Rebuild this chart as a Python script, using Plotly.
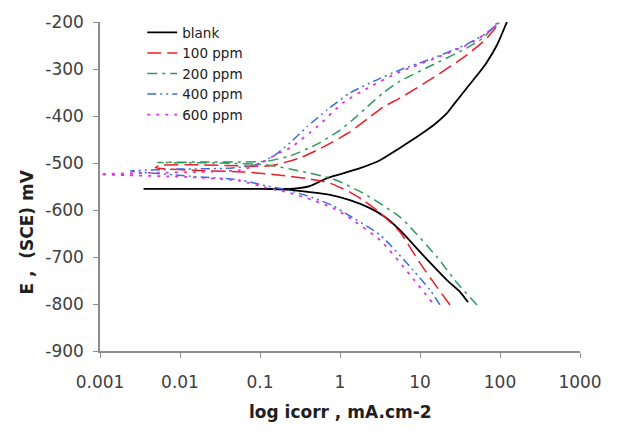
import plotly.graph_objects as go

# ---- data (current density mA/cm2, potential mV vs SCE) ----
# each curve runs from the cathodic end, through the low-current tip, to the anodic end
blank_i = [39.8, 31.6, 21.7, 10.9, 5.62, 3.65, 2.37, 1.33, 0.75, 0.42, 0.24, 0.10, 0.018, 0.0035,
           0.018, 0.10, 0.237, 0.42, 0.69, 1.15, 1.78, 3.16, 5.6, 10.0, 15.4, 21.7, 27.4, 38.7, 56.0, 68.8, 91.7, 122.0]
blank_E = [-796, -774, -749, -696, -643, -615, -596, -579, -568, -562, -557, -555, -555, -555,
           -555, -555, -555, -549, -532, -521, -511, -494, -468, -440, -417, -394, -372, -340, -306, -285, -249, -200]

ppm100_i = [23.7, 16.3, 10.0, 5.62, 3.16, 1.94, 1.33, 0.75, 0.42, 0.178, 0.065, 0.0178, 0.0049,
            0.0056, 0.0178, 0.056, 0.133, 0.316, 0.65, 1.33, 2.37, 3.45, 5.62, 14.5, 38.7, 68.8, 100.0]
ppm100_E = [-802, -764, -713, -647, -606, -579, -562, -543, -534, -526, -519, -516, -510,
            -505, -504, -506, -506, -489, -464, -434, -402, -381, -362, -319, -270, -234, -200]

ppm200_i = [51.6, 29.0, 16.3, 8.2, 5.62, 1.94, 0.82, 0.316, 0.122, 0.0316, 0.0052,
            0.0178, 0.056, 0.122, 0.237, 0.516, 1.0, 1.54, 2.17, 3.45, 5.62, 14.5, 38.7, 61.3, 91.7]
ppm200_E = [-802, -755, -700, -643, -615, -564, -534, -517, -504, -500, -499,
            -498, -498, -496, -485, -460, -430, -404, -381, -351, -326, -291, -255, -234, -202]

ppm400_i = [17.8, 13.3, 8.2, 3.16, 1.22, 0.82, 0.46, 0.217, 0.122, 0.056, 0.0133, 0.0024,
            0.01, 0.042, 0.087, 0.154, 0.237, 0.387, 0.69, 1.33, 2.9, 5.62, 14.5, 38.7, 68.8, 100.0]
ppm400_E = [-802, -770, -728, -653, -609, -591, -574, -557, -549, -536, -528, -517,
            -513, -511, -504, -483, -457, -423, -387, -351, -323, -302, -277, -247, -223, -200]

ppm600_i = [14.1, 7.5, 3.16, 1.22, 0.82, 0.46, 0.217, 0.122, 0.056, 0.0133, 0.001,
            0.0042, 0.0178, 0.056, 0.10, 0.154, 0.237, 0.516, 1.09, 2.37, 5.62, 14.5, 38.7, 68.8, 100.0]
ppm600_E = [-796, -738, -664, -613, -596, -579, -562, -553, -538, -530, -524,
            -521, -519, -515, -502, -483, -468, -423, -372, -338, -306, -279, -249, -223, -200]

series_names = ["blank", "100 ppm", "200 ppm", "400 ppm", "600 ppm"]

x_tickvals = [0.001, 0.01, 0.1, 1, 10, 100, 1000]
x_ticktext = ["0.001", "0.01", "0.1", "1", "10", "100", "1000"]
y_tickvals = [-900, -800, -700, -600, -500, -400, -300, -200]
y_ticktext = ["-900", "-800", "-700", "-600", "-500", "-400", "-300", "-200"]

# ---- styling ----
styles = [
    dict(color="#000000", dash="solid", width=1.8),
    dict(color="#ee1c25", dash="14px,6px", width=1.5),
    dict(color="#2e9b5e", dash="10px,5px,3px,5px", width=1.5),
    dict(color="#3b6fe0", dash="9px,4px,2px,4px,2px,4px", width=1.5),
    dict(color="#dd33dd", dash="3px,6px", width=1.8),
]
data = [(blank_i, blank_E), (ppm100_i, ppm100_E), (ppm200_i, ppm200_E),
        (ppm400_i, ppm400_E), (ppm600_i, ppm600_E)]

fig = go.Figure()
for name, (xi, yi), st in zip(series_names, data, styles):
    fig.add_trace(go.Scatter(x=xi, y=yi, mode="lines", name=name,
                             line=dict(color=st["color"], dash=st["dash"], width=st["width"],
                                       shape="spline", smoothing=0.6)))

tick_font = dict(family="DejaVu Sans", size=17, color="#404040")
axis_col = "#8c8c8c"
title_font = dict(family="DejaVu Sans", size=17, color="#202020", weight="bold")

fig.update_layout(
    width=632, height=433,
    margin=dict(l=100, r=52, t=22, b=82),
    paper_bgcolor="white", plot_bgcolor="white",
    showlegend=True,
    legend=dict(x=0.088, y=1.015, xanchor="left", yanchor="top",
                bgcolor="rgba(0,0,0,0)", font=dict(family="DejaVu Sans", size=13.5, color="#202020"),
                tracegroupgap=0),
    xaxis=dict(type="log", range=[-3, 3], tickvals=x_tickvals, ticktext=x_ticktext,
               showgrid=False, zeroline=False, showline=True, linecolor=axis_col, linewidth=1.5,
               ticks="outside", ticklen=5, tickcolor=axis_col, tickwidth=1.2,
               tickfont=tick_font, ticklabelstandoff=10),
    yaxis=dict(range=[-900, -200], tickvals=y_tickvals, ticktext=y_ticktext,
               showgrid=False, zeroline=False, showline=True, linecolor=axis_col, linewidth=1.5,
               ticks="outside", ticklen=5, tickcolor=axis_col, tickwidth=1.2,
               tickfont=tick_font, ticklabelstandoff=6),
    annotations=[
        dict(text="log icorr , mA.cm-2", xref="paper", yref="paper", x=0.5, y=-0.185,
             xanchor="center", yanchor="middle", showarrow=False, font=title_font),
        dict(text="E ,  (SCE) mV", xref="paper", yref="paper", x=-0.152, y=0.36,
             xanchor="center", yanchor="middle", showarrow=False, textangle=-90,
             font=title_font),
    ],
)

fig.write_html("out.html")
